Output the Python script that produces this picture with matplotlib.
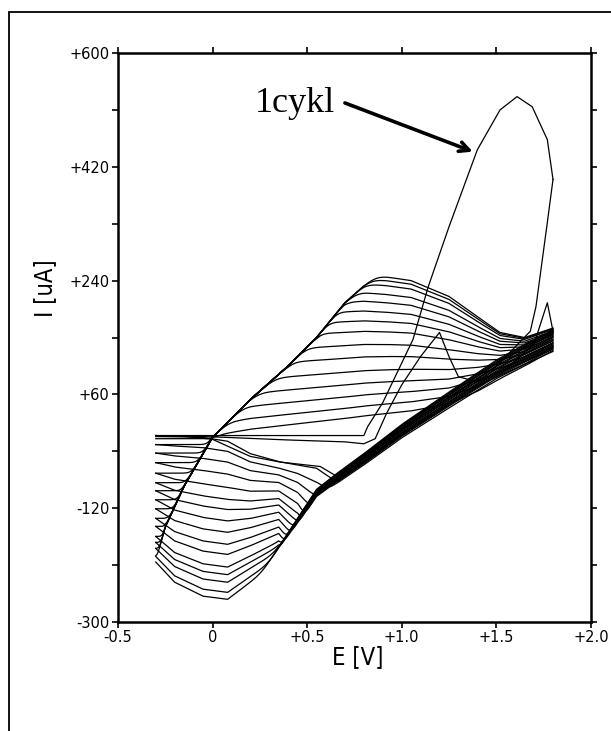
import numpy as np
import matplotlib
matplotlib.use("Agg")
import matplotlib.pyplot as plt
from matplotlib.patches import Rectangle

# cyclic voltammogram, E from -0.3 V to +1.8 V, ~17 cycles

# cycle 1 (big oxidation peak at +1.6 V)
cyc1_fwd_E = [-0.30, 0.00, 0.40, 0.80, 0.82, 0.90, 1.06, 1.14, 1.25, 1.40, 1.52, 1.61, 1.69, 1.77, 1.80]
cyc1_fwd_I = [-5, -5, -5, -5, 9, 47, 147, 230, 325, 447, 510, 531, 515, 463, 400]
cyc1_rev_E = [1.80, 1.77, 1.71, 1.68, 1.50, 1.20, 1.00, 0.80, 0.66, 0.57, 0.36, 0.20, 0.00, -0.15, -0.30]
cyc1_rev_I = [400, 332, 199, 160, 104, 45, 5, -40, -70, -54, -47, -38, -11, -6, -5]

# cycle 2 forward (small peak near +1.2 V)
cyc2_fwd_E = [-0.30, 0.00, 0.40, 0.70, 0.80, 0.86, 0.92, 1.00, 1.10, 1.20, 1.25, 1.30, 1.40, 1.55, 1.70, 1.77, 1.80]
cyc2_fwd_I = [-5, -7, -12, -15, -18, -10, 30, 75, 120, 158, 120, 88, 80, 100, 140, 205, 160]

# forward sweeps: common rising edge and lowest / highest anodic wave
fwd_E = [-0.30, -0.25, -0.15, 0.00, 0.20, 0.40, 0.55, 0.70, 0.80, 0.92, 1.05, 1.25, 1.40, 1.52, 1.65, 1.80]
fwd_edge = [-205, -150, -85, -8, 52, 105, 150, 205, 232, 260, 280, 300, 320, 340, 360, 380]
fwd_low = [-5, -5, -5, -5, 5, 12, 17, 22, 26, 30, 34, 45, 65, 85, 105, 130]
fwd_high = [250, 250, 250, 250, 250, 250, 250, 250, 250, 246, 240, 215, 183, 158, 150, 165]

# reverse sweeps: common band and shallowest / deepest cathodic wave
rev_E = [1.80, 1.65, 1.50, 1.20, 1.00, 0.80, 0.65, 0.55, 0.45, 0.35, 0.20, 0.08, -0.05, -0.20, -0.30]
rev_band = [150, 128, 104, 45, 5, -40, -72, -95, -140, -185, -255, -310, -360, -420, -460]
rev_low = [-400, -400, -400, -400, -400, -400, -75, -54, -50, -45, -32, -12, -6, -5, -5]
rev_high = [-400, -400, -400, -400, -400, -400, -400, -400, -260, -205, -237, -264, -259, -237, -205]

# anodic current at +0.92 V for cycles 3..17
ipa = [30, 45, 62, 80, 99, 120, 139, 159, 175, 190, 205, 218, 232, 240, 246]
# cathodic current at +0.08 V for cycles 2..17
ipc = [-14, -30, -47, -66, -87, -106, -122, -140, -158, -177, -193, -213, -225, -237, -253, -264]
# current at +1.8 V where each reverse sweep starts, cycles 2..17
i_switch = [132, 128, 136, 140, 134, 145, 138, 150, 142, 155, 147, 158, 152, 160, 156, 162]

yticks = [-300, -120, 60, 240, 420, 600]
ylabels = ["-300", "-120", "+60", "+240", "+420", "+600"]
xticks = [-0.5, 0.0, 0.5, 1.0, 1.5, 2.0]
xlabels = ["-0.5", "0", "+0.5", "+1.0", "+1.5", "+2.0"]

Eg = np.linspace(-0.3, 1.8, 421)
SOFT = 6.0


def interp(E, xs, ys):
    xs = np.asarray(xs, float)
    ys = np.asarray(ys, float)
    if xs[0] > xs[-1]:
        xs, ys = xs[::-1], ys[::-1]
    return np.interp(E, xs, ys)


def smax(a, b):
    return np.logaddexp(a / SOFT, b / SOFT) * SOFT


def smin(a, b):
    return -smax(-a, -b)


def reverse_sweep(c, top):
    lo = interp(Eg, rev_E, rev_low)
    hi = interp(Eg, rev_E, rev_high)
    w = (c - rev_low[11]) / (rev_high[11] - rev_low[11])
    trough = lo + w * (hi - lo)
    band = interp(Eg, rev_E, rev_band) + (top - rev_band[0]) * (Eg + 0.3) / 2.1
    return smax(band, trough)


def forward_sweep(a, start):
    lo = interp(Eg, fwd_E, fwd_low)
    hi = interp(Eg, fwd_E, fwd_high)
    w = (a - fwd_low[9]) / (fwd_high[9] - fwd_low[9])
    plateau = lo + w * (hi - lo)
    rise = smax(np.full_like(Eg, start), interp(Eg, fwd_E, fwd_edge))
    return smin(rise, plateau)


fig = plt.figure(figsize=(6.11, 7.31), dpi=100)
ax = fig.add_axes([0.193, 0.149, 0.774, 0.7785])

lw = 0.9
ax.plot(cyc1_fwd_E, cyc1_fwd_I, color="black", lw=lw)
ax.plot(cyc1_rev_E, cyc1_rev_I, color="black", lw=lw)
ax.plot(cyc2_fwd_E, cyc2_fwd_I, color="black", lw=lw)

prev_end = None
for n, c in enumerate(ipc):
    if n > 0:
        fwd = forward_sweep(ipa[n - 1], prev_end)
        ax.plot(Eg, fwd, color="black", lw=lw)
    rev = reverse_sweep(c, i_switch[n])
    ax.plot(Eg, rev, color="black", lw=lw)
    prev_end = rev[0]

ax.set_xlim(-0.5, 2.0)
ax.set_ylim(-300, 600)
ax.set_xticks(xticks)
ax.set_xticklabels(xlabels)
ax.set_yticks(yticks)
ax.set_yticklabels(ylabels)
ax.set_yticks([-210, -30, 150, 330, 510], minor=True)
ax.tick_params(which="both", direction="out", length=4, width=1.2,
               top=True, right=True, labelsize=10.5, pad=2)
ax.tick_params(axis="x", which="minor", length=0)
for s in ax.spines.values():
    s.set_linewidth(1.8)

ax.set_xlabel("E [V]", fontsize=17, fontstretch="condensed")
ax.xaxis.set_label_coords(0.507, -0.040)
ax.set_ylabel("I [uA]", fontsize=17, fontstretch="condensed")
ax.yaxis.set_label_coords(-0.128, 0.587)

ax.text(0.224, 507, "1cykl", fontsize=26, family=["Liberation Serif", "DejaVu Serif"],
        va="baseline", ha="left")
ax.annotate("", xy=(1.376, 444), xytext=(0.70, 521),
            arrowprops=dict(arrowstyle="->,head_length=0.7,head_width=0.35",
                            lw=2.6, color="black", shrinkA=0, shrinkB=0))

fig.patches.append(Rectangle((9 / 611, -0.05), 1.2, 1 - 12 / 731 + 0.05,
                             transform=fig.transFigure, fill=False,
                             lw=1.3, edgecolor="black"))

fig.savefig("out.png", dpi=100)
